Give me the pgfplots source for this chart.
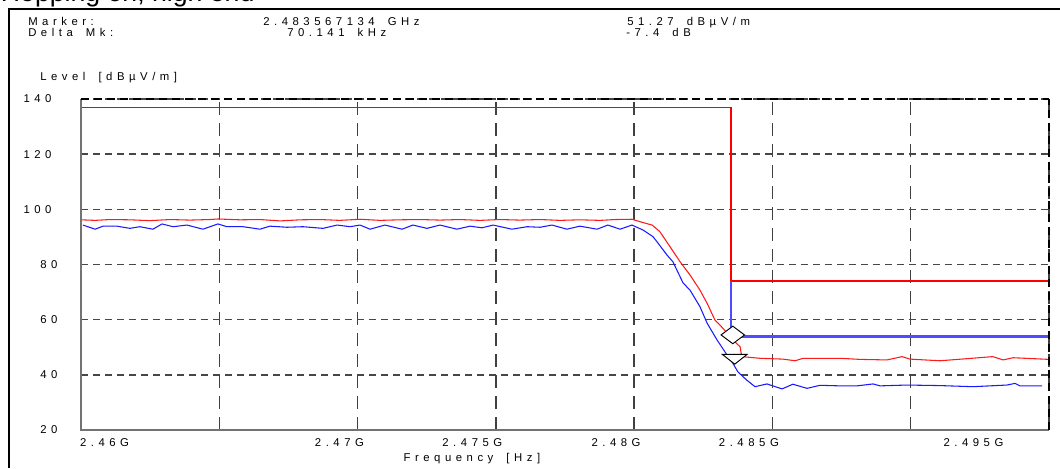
\documentclass[border=0pt]{standalone}
\usepackage{pgfplots}
\pgfplotsset{compat=1.18}
\usepackage{fontspec}
\setmainfont{Liberation Sans}
\newfontfamily\spaced{Liberation Sans}[LetterSpace=40, WordSpace=1.7]
\newcommand\lab{\spaced\fontsize{8.5}{10}\selectfont}
\definecolor{trred}{HTML}{FF1A1A}
\definecolor{trblue}{HTML}{1A1AFF}
\definecolor{limblue}{HTML}{4D4DFF}
\begin{document}
\begin{tikzpicture}
\useasboundingbox (0,0) rectangle (795pt,351pt);
% outer frame
\draw[line width=2.2pt] (6.75pt,0pt) -- (6.75pt,344.25pt) -- (800pt,344.25pt);
% title (partly cut off)
\node[anchor=base west, inner sep=0pt, font=\fontsize{20}{24}\selectfont] at (0.5pt,350.2pt) {Hopping on, high end};
% header
\node[anchor=base west, inner sep=0pt, font=\lab] at (21pt,332pt) {Marker:};
\node[anchor=base west, inner sep=0pt, font=\lab] at (21pt,323.75pt) {Delta Mk:};
\node[anchor=base west, inner sep=0pt, font=\lab] at (197.25pt,332pt) {2.483567134 GHz};
\node[anchor=base west, inner sep=0pt, font=\lab] at (215.25pt,323.75pt) {70.141 kHz};
\node[anchor=base west, inner sep=0pt, font=\lab] at (470.25pt,332pt) {51.27 dBµV/m};
\node[anchor=base west, inner sep=0pt, font=\lab] at (469.5pt,323.75pt) {-7.4 dB};
\node[anchor=base west, inner sep=0pt, font=\lab] at (30pt,290.25pt) {Level [dBµV/m]};
\node[anchor=base west, inner sep=0pt, font=\lab] at (302.5pt,5.25pt) {Frequency [Hz]};
\begin{axis}[
  at={(60.75pt,28.5pt)}, anchor=south west,
  width=726pt, height=248.25pt, scale only axis,
  xmin=2460, xmax=2495, ymin=20, ymax=140,
  xtick={2460,2465,...,2495},
  xticklabels={\makebox[0pt][l]{\hspace*{-5pt}2.46G},,2.47G,2.475G,2.48G,2.485G,,},
  extra x ticks={2493.12},
  extra x tick labels={2.495G},
  extra x tick style={grid=none},
  ytick={20,40,...,140},
  yticklabels={20,40,60,80,100\hspace*{4.5pt},120\hspace*{4.5pt},140\hspace*{4.5pt}},
  major tick length=0pt,
  xticklabel style={font=\lab, anchor=north east, inner sep=0pt, xshift=5pt, yshift=-6pt},
  yticklabel style={font=\lab, anchor=east, inner sep=0pt, xshift=-17.4pt},
  grid=major,
  major x grid style={black!75, line width=1pt, dash pattern=on 9.75pt off 6pt},
  major y grid style={black!72, line width=1pt, dash pattern=on 5.25pt off 3.75pt},
  axis line style={draw=none},
  clip=false,
]
% peak trace (red)
\addplot[trred, line width=0.8pt] coordinates {
(2460.00,96.2)(2460.51,96.0)(2461.05,96.3)(2461.77,96.2)(2462.49,95.9)(2463.22,96.3)
(2463.94,96.1)(2464.66,96.3)(2464.95,96.5)(2465.75,96.2)(2466.47,96.3)(2467.20,95.8)
(2467.92,96.2)(2468.64,96.3)(2469.36,96.0)(2470.09,96.4)(2470.81,96.0)(2471.53,96.2)
(2472.26,96.3)(2472.98,96.1)(2473.70,96.3)(2474.43,96.0)(2475.15,96.3)(2475.87,96.1)
(2476.60,96.3)(2477.32,96.0)(2478.04,96.2)(2478.77,96.0)(2479.31,96.3)(2479.92,96.4)
(2480.32,95.2)(2480.65,94.3)(2480.93,91.9)(2481.30,86.4)(2481.66,81.0)(2482.02,76.2)
(2482.38,70.7)(2482.64,65.9)(2482.92,59.9)(2483.21,56.9)(2483.57,52.6)(2483.83,50.2)
(2483.89,46.6)(2484.55,46.0)(2485.38,45.7)(2485.82,45.1)(2486.11,46.0)(2487.44,46.0)
(2488.17,45.6)(2489.14,45.4)(2489.69,46.6)(2489.97,45.7)(2491.06,45.1)(2491.96,45.8)
(2492.97,46.6)(2493.34,45.4)(2493.70,46.2)(2495.00,45.6)
};
% average trace (blue)
\addplot[trblue, line width=0.8pt] coordinates {
(2460.07,94.3)(2460.51,92.8)(2460.80,93.9)(2461.30,93.9)(2461.77,93.1)(2462.13,93.7)
(2462.60,92.8)(2462.93,94.7)(2463.33,93.7)(2463.83,94.3)(2464.41,92.8)(2464.95,94.7)
(2465.28,93.7)(2465.86,93.7)(2466.47,92.8)(2466.83,93.9)(2467.45,93.5)(2468.03,93.7)
(2468.75,93.1)(2469.26,94.3)(2469.73,93.7)(2470.09,94.3)(2470.45,92.8)(2470.99,94.3)
(2471.61,92.8)(2472.00,94.3)(2472.51,93.1)(2472.98,94.3)(2473.59,92.8)(2474.07,93.9)
(2474.50,93.3)(2474.90,94.3)(2475.58,92.8)(2476.13,93.7)(2476.60,93.5)(2477.03,94.3)
(2477.57,92.8)(2478.04,93.9)(2478.66,92.8)(2479.05,94.3)(2479.49,92.8)(2479.92,94.3)
(2480.32,92.5)(2480.68,90.1)(2480.86,87.8)(2481.19,83.4)(2481.40,81.0)(2481.77,73.3)
(2482.02,70.7)(2482.38,64.7)(2482.64,58.7)(2483.00,52.6)(2483.36,47.2)(2483.57,44.2)
(2483.75,41.1)(2484.07,38.1)(2484.37,35.7)(2484.80,36.7)(2485.35,34.9)(2485.74,36.6)
(2486.25,35.1)(2486.72,36.2)(2487.44,36.0)(2488.06,36.0)(2488.64,36.7)(2488.89,36.0)
(2489.87,36.3)(2491.06,36.1)(2492.25,35.7)(2493.48,36.3)(2493.77,36.9)(2493.95,36.0)
(2494.75,36.0)
};
% limit lines
\addplot[red, line width=1pt] coordinates {(2460,137)(2483.5,137)};
\addplot[red, line width=2pt] coordinates {(2483.5,137)(2483.5,74)};
\addplot[red, line width=1.2pt] coordinates {(2483.5,74)(2495,74)};
\addplot[limblue, line width=2pt] coordinates {(2483.5,74)(2483.5,54)(2495,54)};
% markers
\addplot[only marks, mark=diamond*, mark size=8.8pt,
  mark options={yshift=6.6pt, rotate=90, fill=white, draw=black, line width=0.7pt}]
  coordinates {(2483.567,51.27)};
\addplot[only marks, mark=triangle*, mark size=10.7pt,
  mark options={yshift=4.87pt, rotate=180, yscale=0.455, fill=white, draw=black, line width=0.7pt}]
  coordinates {(2483.637,43.87)};
% axis box
\draw[black!55, line width=0.8pt] (rel axis cs:0,1) -- (rel axis cs:0,0) -- (rel axis cs:1,0);
\draw[black, line width=2.2pt, dash pattern=on 6pt off 3.75pt] (rel axis cs:0,1) -- (rel axis cs:1,1);
\draw[black, line width=2.2pt, dash pattern=on 6pt off 3.75pt] (rel axis cs:1,0) -- (rel axis cs:1,1);
\end{axis}
\end{tikzpicture}
\end{document}
